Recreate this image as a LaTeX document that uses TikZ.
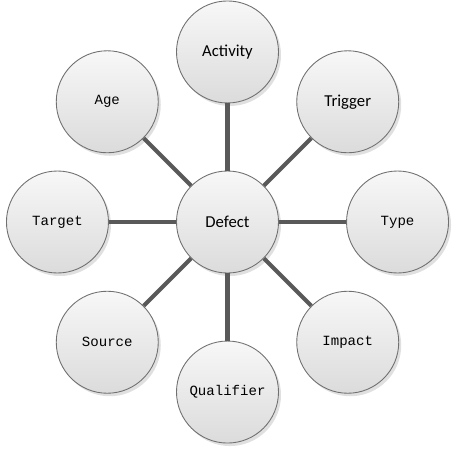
\documentclass[tikz,border=0pt]{standalone}
\usepackage{fontspec}
\setmainfont{Carlito}
\newfontfamily\monoschrift{Liberation Mono}
\usetikzlibrary{shadows}
\definecolor{kreisrand}{HTML}{707070}
\definecolor{speiche}{HTML}{595959}
\tikzset{
  kreis/.style={circle,draw=kreisrand,line width=0.5pt,minimum size=2.04cm,inner sep=0pt,
    top color=gray!6,bottom color=gray!28,
    drop shadow={shadow xshift=0.05cm,shadow yshift=-0.06cm,fill=black,opacity=0.12}},
  sanstext/.style={font=\fontsize{9.5}{11}\selectfont},
  monotext/.style={font=\monoschrift\fontsize{8}{10}\selectfont},
  speichenlinie/.style={draw=speiche,line width=2.3pt}
}
\begin{document}
\begin{tikzpicture}
%1 px = 0.02 cm, Mitte des Bildes bei (227.5,222)
  \pgfmathsetmacro{\Abstand}{170*0.02}
  \useasboundingbox (-4.55,-4.62) rectangle (4.55,4.44);
\foreach \name/\winkel/\schrift in {Activity/90/sanstext,Trigger/45/sanstext,Type/0/monotext,Impact/-45/monotext,Qualifier/-90/monotext,Source/-135/monotext,Target/180/monotext,Age/135/monotext}{
  \node[kreis,\schrift] (\name) at (\winkel:\Abstand) {\name};
}
\node[kreis,sanstext] (Defect) at (0,0) {Defect};
\foreach \name in {Activity,Trigger,Type,Impact,Qualifier,Source,Target,Age}{
  \draw[speichenlinie] (Defect) -- (\name);
}
\end{tikzpicture}
\end{document}
